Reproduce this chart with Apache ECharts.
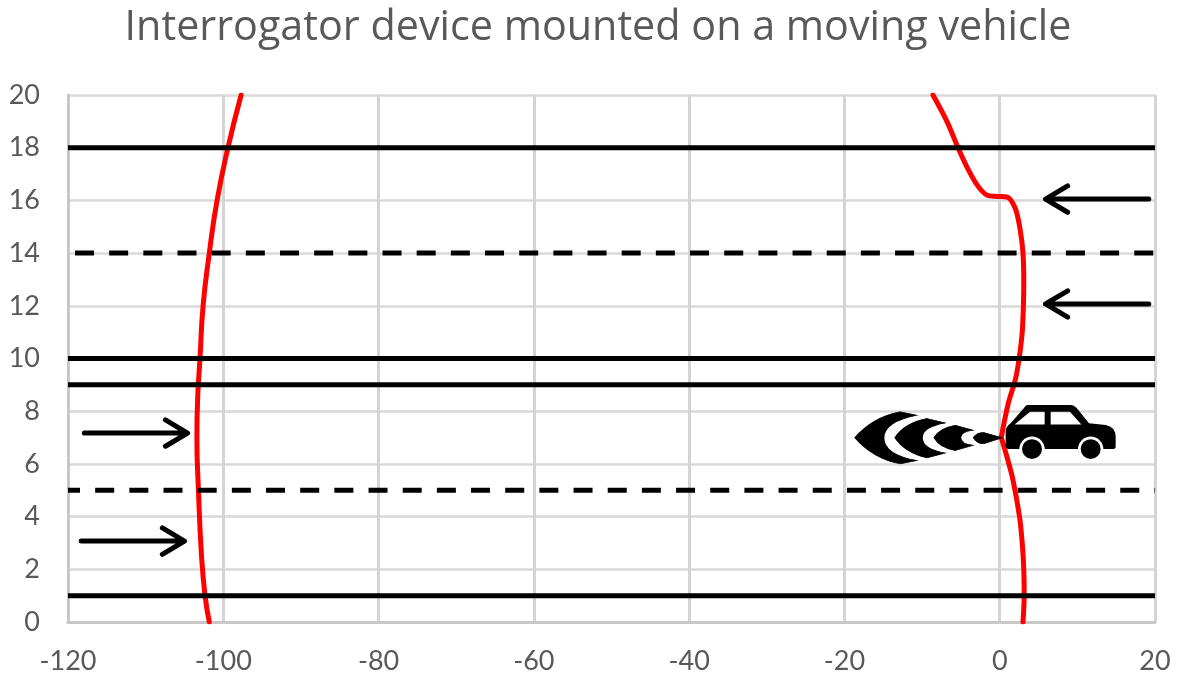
<!DOCTYPE html>
<html><head><meta charset="utf-8">
<style>html,body{margin:0;padding:0;background:#fff}#c{width:1181px;height:677px}</style>
<script src="https://cdn.jsdelivr.net/npm/echarts@6/dist/echarts.min.js"></script>
</head><body><div id="c"></div>
<script>
const titleText = 'Interrogator device mounted on a moving vehicle';
const leftCurve = [[-101.8,0],[-102.35,1],[-102.8,2.5],[-103.2,5],[-103.4,7],[-103.3,8.5],[-103.0,10],[-102.6,12],[-101.8,14],[-100.8,16],[-99.4,18],[-97.7,20]];
const rightLower = [[3.0,0],[3.15,1],[3.1,2],[2.9,3],[2.55,4],[1.7,5.4],[0.93,6.27],[0.2,7]];
const rightUpper = [[0.2,7],[1.1,8.3],[2.0,9.18],[2.5,10],[2.9,11],[3.05,12],[3.1,12.8],[3.0,14],[2.6,14.95],[2.0,15.7],[0.93,16.13],[-0.35,16.15],[-1.65,16.2],[-2.9,16.58],[-4.1,17.2],[-5.37,18],[-6.8,19],[-8.6,20]];
const roadSolid = [18,10,9,1];
const roadDashed = [14,5];
const dashStarts = [-119.1,-120];
const dashPhases = [0,7];
const arrowsRight = [[-117.9,7.17,-104.6],[-118.3,3.07,-105]];
const arrowsLeft = [[19.2,16.05,5.9],[19.2,12.07,5.9]];
const carPos = [[7.85,7.21]];
const wavePos = [[-9.16,6.99]];

const carPath = 'path://M620 75 L750 75 Q760 75 768 84 L805 130 L855 135 Q885 140 885 172 L885 200 Q885 208 875 208 L848 208 A38 38 0 0 0 772 208 L672 208 A38 38 0 0 0 596 208 L565 208 Q555 208 555 198 L555 155 Q555 140 570 130 L610 84 Q615 75 620 75 Z'
 + ' M672 95 L628 95 L582 134 L672 134 Z M690 95 L690 134 L782 134 L748 95 Z'
 + ' M634 178 A30 30 0 1 0 634 238 A30 30 0 1 0 634 178 Z M810 178 A30 30 0 1 0 810 238 A30 30 0 1 0 810 178 Z';
const wavePath = 'path://M105 172 Q160 110 240 95 L290 105 Q190 125 190 172 Q190 222 290 240 L240 250 Q160 235 105 172 Z'
 + ' M225 172 Q255 127 320 115 L375 128 Q305 140 305 172 Q305 205 375 218 L320 232 Q255 217 225 172 Z'
 + ' M342 172 Q360 142 405 135 L458 150 Q420 155 420 172 Q420 190 458 195 L405 210 Q360 203 342 172 Z'
 + ' M460 172 Q470 157 490 157 L545 172 L490 190 Q470 190 460 172 Z';

const series = [];
const red = (d,s) => ({type:'line',data:d,showSymbol:false,symbol:'none',smooth:s,z:2,silent:true,
  lineStyle:{color:'#ff0000',width:5,cap:'round'}});
series.push(red(leftCurve,0.5), red(rightLower,0.3), red(rightUpper,0.3));
roadSolid.forEach(y => series.push({type:'line',symbol:'none',z:3,silent:true,clip:false,
  data:[[-120,y],[20,y]],lineStyle:{color:'#000',width:5}}));
roadDashed.forEach((y,i) => series.push({type:'line',symbol:'none',z:3,silent:true,clip:false,
  data:[[dashStarts[i],y],[20,y]],lineStyle:{color:'#000',width:5,type:[19,15.17],dashOffset:dashPhases[i]}}));
const arrow = (x0,y,tip,dir) => ({type:'line',symbol:'none',z:4,silent:true,
  data:[[x0,y],[tip,y],[tip-dir*2.85,y+0.5],[tip,y],[tip-dir*2.85,y-0.5]],
  lineStyle:{color:'#000',width:5,cap:'round',join:'round'}});
arrowsRight.forEach(a => series.push(arrow(a[0],a[1],a[2],1)));
arrowsLeft.forEach(a => series.push(arrow(a[0],a[1],a[2],-1)));
series.push({type:'scatter',z:5,silent:true,data:carPos,symbol:carPath,symbolSize:[110,54],itemStyle:{color:'#000',opacity:1}});
series.push({type:'scatter',z:5,silent:true,data:wavePos,symbol:wavePath,symbolSize:[147,52],itemStyle:{color:'#000',opacity:1,borderColor:'#000',borderWidth:1}});

const chart = echarts.init(document.getElementById('c'),null,{renderer:'canvas'});
chart.setOption({
  animation:false,backgroundColor:'#fff',
  title:{text:titleText,left:593,top:3,textAlign:'center',
    textStyle:{fontFamily:'"Open Sans"',fontWeight:'normal',fontSize:41.3,color:'#595959'}},
  grid:{left:68,right:26,top:95,bottom:55,containLabel:false},
  tooltip:{show:false},legend:{show:false},
  xAxis:{type:'value',min:-120,max:20,interval:20,
    axisLine:{show:true,onZero:false,lineStyle:{color:'#c8c8c8',width:3}},axisTick:{show:false},
    splitLine:{show:true,lineStyle:{color:'#d4d4d4',width:3}},
    axisLabel:{color:'#595959',fontSize:27,fontFamily:'Lato',margin:26,showMinLabel:true,showMaxLabel:true}},
  yAxis:{type:'value',min:0,max:20,interval:2,
    axisLine:{show:true,onZero:false,lineStyle:{color:'#c8c8c8',width:3}},axisTick:{show:false},
    splitLine:{show:true,lineStyle:{color:'#d9d9d9',width:2.5}},
    axisLabel:{color:'#595959',fontSize:27,fontFamily:'Lato',margin:28,showMinLabel:true,showMaxLabel:true}},
  series
});
</script></body></html>
